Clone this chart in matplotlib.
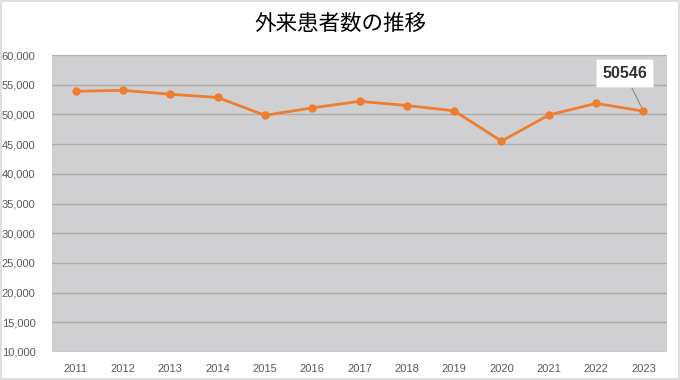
import matplotlib
matplotlib.use("Agg")
import matplotlib.pyplot as plt
from matplotlib.patches import Rectangle

# data
years = ["2011", "2012", "2013", "2014", "2015", "2016", "2017",
         "2018", "2019", "2020", "2021", "2022", "2023"]
patients = [53900, 54050, 53400, 52850, 49850, 51100, 52200,
            51500, 50600, 45500, 49900, 51850, 50546]
y_ticks = list(range(10000, 60001, 5000))
title = "外来患者数の推移"

line_color = "#ED7D31"
tick_color = "#595959"

fig = plt.figure(figsize=(6.8, 3.8), dpi=100)
fig.patch.set_facecolor("white")
fig.patches.append(Rectangle((0.0015, 0.002), 0.997, 0.995, transform=fig.transFigure,
                             fill=False, edgecolor="#D9D9D9", linewidth=1.2))

ax = fig.add_axes([0.0765, 0.0737, 0.9045, 0.7815])
ax.set_facecolor("#D0D0D2")

x = list(range(len(years)))
ax.plot(x, patients, color=line_color, linewidth=2.0, marker="o",
        markersize=5, zorder=3)

ax.set_xlim(-0.5, len(years) - 0.5)
ax.set_ylim(10000, 60000)
ax.set_yticks(y_ticks)
ax.set_yticklabels([f"{v:,}" for v in y_ticks])
ax.set_xticks(x)
ax.set_xticklabels(years)
ax.yaxis.grid(True, color="#ADADAD", linewidth=1.0)
ax.set_axisbelow(True)
ax.tick_params(length=0, labelsize=8, colors=tick_color, pad=9)
ax.tick_params(axis="y", pad=12)
for lab in ax.get_xticklabels() + ax.get_yticklabels():
    lab.set_family(["Liberation Sans", "DejaVu Sans"])
for s in ax.spines.values():
    s.set_visible(False)

# last value callout
ax.annotate(f"{patients[-1]}", xy=(x[-1], patients[-1]), xytext=(11.6, 56950),
            ha="center", va="center", fontsize=11.5, fontweight="bold",
            color="#333333", family=["Liberation Sans", "DejaVu Sans"],
            bbox=dict(boxstyle="square,pad=0.4", fc="white", ec="#E0E0E0", lw=0.5),
            arrowprops=dict(arrowstyle="-", color="#8C8C8C", lw=0.8,
                            shrinkA=0, shrinkB=3))

fig.text(0.5, 0.937, title, ha="center", va="center", fontsize=15.5,
         family=["Noto Sans CJK JP", "DejaVu Sans"], color="black")

fig.savefig("out.png", dpi=100)
